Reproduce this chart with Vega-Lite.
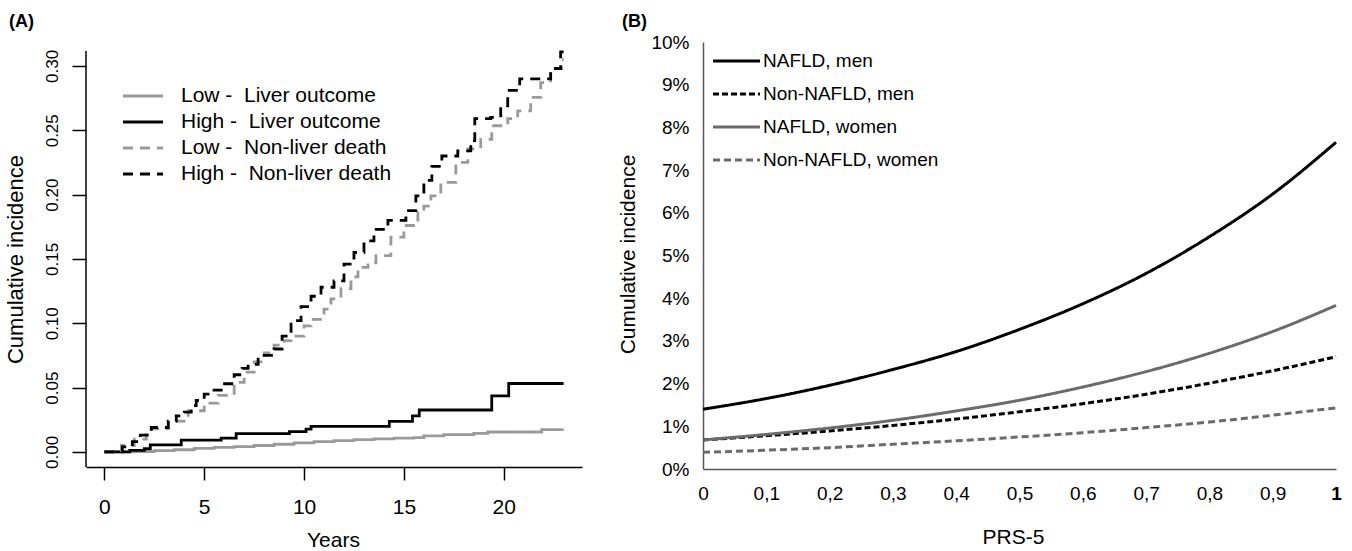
{
  "$schema": "https://vega.github.io/schema/vega-lite/v6.json",
  "background": "white",
  "autosize": {"type": "pad"},
  "padding": {"left": 4, "top": 13, "right": 0, "bottom": 0},
  "config": {
    "font": "Liberation Sans",
    "view": {"stroke": null},
    "axis": {"grid": false, "labelColor": "black", "titleColor": "black", "titleFontWeight": "normal", "labelFlush": false, "labelOverlap": false},
    "legend": {"padding": 0, "labelColor": "black", "labelLimit": 0},
    "title": {"color": "black"}
  },
  "bounds": "flush",
  "spacing": 121,
  "resolve": {
    "scale": {"color": "independent", "strokeDash": "independent", "strokeWidth": "independent", "x": "independent", "y": "independent"},
    "legend": {"color": "independent", "strokeDash": "independent"}
  },
  "hconcat": [
    {
      "width": 496,
      "height": 425,
      "title": {"text": "(A)", "anchor": "start", "frame": "bounds", "fontSize": 18, "fontWeight": "bold", "offset": 11, "dx": 5},
      "data": {"values": [
        {"s": "Low -\u00a0 Liver outcome", "t": 0, "ci": 0},
        {"s": "Low -\u00a0 Liver outcome", "t": 1.5, "ci": 0.0003},
        {"s": "Low -\u00a0 Liver outcome", "t": 2.5, "ci": 0.001},
        {"s": "Low -\u00a0 Liver outcome", "t": 3.5, "ci": 0.0017},
        {"s": "Low -\u00a0 Liver outcome", "t": 4.5, "ci": 0.0027},
        {"s": "Low -\u00a0 Liver outcome", "t": 5.5, "ci": 0.0035},
        {"s": "Low -\u00a0 Liver outcome", "t": 6.5, "ci": 0.0042},
        {"s": "Low -\u00a0 Liver outcome", "t": 7.5, "ci": 0.005},
        {"s": "Low -\u00a0 Liver outcome", "t": 8.5, "ci": 0.006},
        {"s": "Low -\u00a0 Liver outcome", "t": 9.5, "ci": 0.007},
        {"s": "Low -\u00a0 Liver outcome", "t": 10.5, "ci": 0.008},
        {"s": "Low -\u00a0 Liver outcome", "t": 11.5, "ci": 0.0088},
        {"s": "Low -\u00a0 Liver outcome", "t": 12.5, "ci": 0.0096},
        {"s": "Low -\u00a0 Liver outcome", "t": 13.5, "ci": 0.0102},
        {"s": "Low -\u00a0 Liver outcome", "t": 14.5, "ci": 0.0107},
        {"s": "Low -\u00a0 Liver outcome", "t": 15.5, "ci": 0.0112},
        {"s": "Low -\u00a0 Liver outcome", "t": 16.0, "ci": 0.0125},
        {"s": "Low -\u00a0 Liver outcome", "t": 17.0, "ci": 0.0135},
        {"s": "Low -\u00a0 Liver outcome", "t": 18.5, "ci": 0.0145},
        {"s": "Low -\u00a0 Liver outcome", "t": 19.2, "ci": 0.0155},
        {"s": "Low -\u00a0 Liver outcome", "t": 21.9, "ci": 0.0173},
        {"s": "Low -\u00a0 Liver outcome", "t": 23.0, "ci": 0.0173},
        {"s": "High -\u00a0 Liver outcome", "t": 0, "ci": 0},
        {"s": "High -\u00a0 Liver outcome", "t": 1.27, "ci": 0.0012},
        {"s": "High -\u00a0 Liver outcome", "t": 2.0, "ci": 0.0025},
        {"s": "High -\u00a0 Liver outcome", "t": 2.3, "ci": 0.0055},
        {"s": "High -\u00a0 Liver outcome", "t": 3.85, "ci": 0.0092},
        {"s": "High -\u00a0 Liver outcome", "t": 5.85, "ci": 0.0108},
        {"s": "High -\u00a0 Liver outcome", "t": 6.6, "ci": 0.0142},
        {"s": "High -\u00a0 Liver outcome", "t": 9.27, "ci": 0.0158},
        {"s": "High -\u00a0 Liver outcome", "t": 10.1, "ci": 0.0178},
        {"s": "High -\u00a0 Liver outcome", "t": 10.35, "ci": 0.0198},
        {"s": "High -\u00a0 Liver outcome", "t": 14.27, "ci": 0.0238},
        {"s": "High -\u00a0 Liver outcome", "t": 15.43, "ci": 0.028},
        {"s": "High -\u00a0 Liver outcome", "t": 15.77, "ci": 0.0326},
        {"s": "High -\u00a0 Liver outcome", "t": 19.4, "ci": 0.0435},
        {"s": "High -\u00a0 Liver outcome", "t": 20.25, "ci": 0.0532},
        {"s": "High -\u00a0 Liver outcome", "t": 23.0, "ci": 0.0532},
        {"s": "Low -\u00a0 Non-liver death", "t": 0, "ci": 0},
        {"s": "Low -\u00a0 Non-liver death", "t": 0.85, "ci": 0.005},
        {"s": "Low -\u00a0 Non-liver death", "t": 1.5, "ci": 0.01},
        {"s": "Low -\u00a0 Non-liver death", "t": 2.1, "ci": 0.0135},
        {"s": "Low -\u00a0 Non-liver death", "t": 2.35, "ci": 0.018},
        {"s": "Low -\u00a0 Non-liver death", "t": 3.2, "ci": 0.024},
        {"s": "Low -\u00a0 Non-liver death", "t": 4.2, "ci": 0.032},
        {"s": "Low -\u00a0 Non-liver death", "t": 5.0, "ci": 0.038},
        {"s": "Low -\u00a0 Non-liver death", "t": 5.7, "ci": 0.044},
        {"s": "Low -\u00a0 Non-liver death", "t": 6.5, "ci": 0.054},
        {"s": "Low -\u00a0 Non-liver death", "t": 7.0, "ci": 0.062},
        {"s": "Low -\u00a0 Non-liver death", "t": 7.5, "ci": 0.07},
        {"s": "Low -\u00a0 Non-liver death", "t": 8.0, "ci": 0.077},
        {"s": "Low -\u00a0 Non-liver death", "t": 8.5, "ci": 0.083},
        {"s": "Low -\u00a0 Non-liver death", "t": 9.0, "ci": 0.0865},
        {"s": "Low -\u00a0 Non-liver death", "t": 9.35, "ci": 0.09},
        {"s": "Low -\u00a0 Non-liver death", "t": 10.0, "ci": 0.098},
        {"s": "Low -\u00a0 Non-liver death", "t": 10.35, "ci": 0.103},
        {"s": "Low -\u00a0 Non-liver death", "t": 11.0, "ci": 0.111},
        {"s": "Low -\u00a0 Non-liver death", "t": 11.35, "ci": 0.119},
        {"s": "Low -\u00a0 Non-liver death", "t": 11.85, "ci": 0.127},
        {"s": "Low -\u00a0 Non-liver death", "t": 12.35, "ci": 0.136},
        {"s": "Low -\u00a0 Non-liver death", "t": 12.7, "ci": 0.1435},
        {"s": "Low -\u00a0 Non-liver death", "t": 13.2, "ci": 0.147},
        {"s": "Low -\u00a0 Non-liver death", "t": 13.6, "ci": 0.1525},
        {"s": "Low -\u00a0 Non-liver death", "t": 14.35, "ci": 0.167},
        {"s": "Low -\u00a0 Non-liver death", "t": 15.0, "ci": 0.176},
        {"s": "Low -\u00a0 Non-liver death", "t": 15.7, "ci": 0.1875},
        {"s": "Low -\u00a0 Non-liver death", "t": 16.0, "ci": 0.191},
        {"s": "Low -\u00a0 Non-liver death", "t": 16.35, "ci": 0.199},
        {"s": "Low -\u00a0 Non-liver death", "t": 16.85, "ci": 0.2095},
        {"s": "Low -\u00a0 Non-liver death", "t": 17.6, "ci": 0.225},
        {"s": "Low -\u00a0 Non-liver death", "t": 18.2, "ci": 0.2355},
        {"s": "Low -\u00a0 Non-liver death", "t": 18.85, "ci": 0.243},
        {"s": "Low -\u00a0 Non-liver death", "t": 19.4, "ci": 0.2535},
        {"s": "Low -\u00a0 Non-liver death", "t": 20.2, "ci": 0.259},
        {"s": "Low -\u00a0 Non-liver death", "t": 20.7, "ci": 0.265},
        {"s": "Low -\u00a0 Non-liver death", "t": 21.35, "ci": 0.2755},
        {"s": "Low -\u00a0 Non-liver death", "t": 21.85, "ci": 0.287},
        {"s": "Low -\u00a0 Non-liver death", "t": 22.35, "ci": 0.298},
        {"s": "Low -\u00a0 Non-liver death", "t": 22.9, "ci": 0.305},
        {"s": "Low -\u00a0 Non-liver death", "t": 23.0, "ci": 0.305},
        {"s": "High -\u00a0 Non-liver death", "t": 0, "ci": 0},
        {"s": "High -\u00a0 Non-liver death", "t": 0.9, "ci": 0.004},
        {"s": "High -\u00a0 Non-liver death", "t": 1.4, "ci": 0.008},
        {"s": "High -\u00a0 Non-liver death", "t": 1.8, "ci": 0.013},
        {"s": "High -\u00a0 Non-liver death", "t": 2.35, "ci": 0.019},
        {"s": "High -\u00a0 Non-liver death", "t": 3.2, "ci": 0.024},
        {"s": "High -\u00a0 Non-liver death", "t": 3.6, "ci": 0.028},
        {"s": "High -\u00a0 Non-liver death", "t": 4.0, "ci": 0.031},
        {"s": "High -\u00a0 Non-liver death", "t": 4.35, "ci": 0.036},
        {"s": "High -\u00a0 Non-liver death", "t": 4.6, "ci": 0.04},
        {"s": "High -\u00a0 Non-liver death", "t": 5.0, "ci": 0.045},
        {"s": "High -\u00a0 Non-liver death", "t": 5.4, "ci": 0.048},
        {"s": "High -\u00a0 Non-liver death", "t": 5.85, "ci": 0.053},
        {"s": "High -\u00a0 Non-liver death", "t": 6.5, "ci": 0.06},
        {"s": "High -\u00a0 Non-liver death", "t": 6.9, "ci": 0.065},
        {"s": "High -\u00a0 Non-liver death", "t": 7.2, "ci": 0.068},
        {"s": "High -\u00a0 Non-liver death", "t": 7.7, "ci": 0.075},
        {"s": "High -\u00a0 Non-liver death", "t": 8.5, "ci": 0.08},
        {"s": "High -\u00a0 Non-liver death", "t": 8.9, "ci": 0.09},
        {"s": "High -\u00a0 Non-liver death", "t": 9.35, "ci": 0.102},
        {"s": "High -\u00a0 Non-liver death", "t": 9.85, "ci": 0.113},
        {"s": "High -\u00a0 Non-liver death", "t": 10.35, "ci": 0.121},
        {"s": "High -\u00a0 Non-liver death", "t": 10.85, "ci": 0.128},
        {"s": "High -\u00a0 Non-liver death", "t": 11.5, "ci": 0.133},
        {"s": "High -\u00a0 Non-liver death", "t": 12.0, "ci": 0.146},
        {"s": "High -\u00a0 Non-liver death", "t": 12.5, "ci": 0.155},
        {"s": "High -\u00a0 Non-liver death", "t": 13.0, "ci": 0.164},
        {"s": "High -\u00a0 Non-liver death", "t": 13.5, "ci": 0.173},
        {"s": "High -\u00a0 Non-liver death", "t": 14.2, "ci": 0.18},
        {"s": "High -\u00a0 Non-liver death", "t": 15.1, "ci": 0.1875},
        {"s": "High -\u00a0 Non-liver death", "t": 15.6, "ci": 0.199},
        {"s": "High -\u00a0 Non-liver death", "t": 16.0, "ci": 0.211},
        {"s": "High -\u00a0 Non-liver death", "t": 16.4, "ci": 0.222},
        {"s": "High -\u00a0 Non-liver death", "t": 16.9, "ci": 0.23},
        {"s": "High -\u00a0 Non-liver death", "t": 17.7, "ci": 0.234},
        {"s": "High -\u00a0 Non-liver death", "t": 18.35, "ci": 0.242},
        {"s": "High -\u00a0 Non-liver death", "t": 18.55, "ci": 0.259},
        {"s": "High -\u00a0 Non-liver death", "t": 19.35, "ci": 0.26},
        {"s": "High -\u00a0 Non-liver death", "t": 19.85, "ci": 0.269},
        {"s": "High -\u00a0 Non-liver death", "t": 20.2, "ci": 0.281},
        {"s": "High -\u00a0 Non-liver death", "t": 20.8, "ci": 0.29},
        {"s": "High -\u00a0 Non-liver death", "t": 22.35, "ci": 0.298},
        {"s": "High -\u00a0 Non-liver death", "t": 22.85, "ci": 0.311},
        {"s": "High -\u00a0 Non-liver death", "t": 23.0, "ci": 0.311}
      ]},
      "layer": [
        {
          "mark": {"type": "line", "interpolate": "step-after", "strokeWidth": 2.8},
          "encoding": {
            "x": {"field": "t", "type": "quantitative", "title": "Years",
              "scale": {"domain": [-0.92, 23.92], "nice": false, "zero": false},
              "axis": {"values": [0, 5, 10, 15, 20], "domainColor": "black", "domainWidth": 1.5, "tickColor": "black", "tickWidth": 1.5, "tickSize": 13, "labelFontSize": 21, "labelBaseline": "middle", "labelPadding": 27, "titleFontSize": 21, "titleBaseline": "middle", "titleY": 73, "titleX": 247}},
            "y": {"field": "ci", "type": "quantitative", "title": "Cumulative incidence",
              "scale": {"domain": [-0.0117, 0.3186], "nice": false, "zero": false},
              "axis": {"values": [0, 0.05, 0.1, 0.15, 0.2, 0.25, 0.3], "format": ".2f", "domain": false, "tickColor": "black", "tickWidth": 1.5, "tickSize": 14, "labelAngle": 270, "labelAlign": "center", "labelBaseline": "middle", "labelPadding": 20, "labelFontSize": 17, "titleFontSize": 22, "titleAngle": 270, "titleBaseline": "middle", "titleX": -71, "titleY": 217}},
            "color": {"field": "s", "type": "nominal",
              "scale": {"domain": ["Low -\u00a0 Liver outcome", "High -\u00a0 Liver outcome", "Low -\u00a0 Non-liver death", "High -\u00a0 Non-liver death"], "range": ["#9a9a9a", "#000000", "#9a9a9a", "#000000"]},
              "legend": {"orient": "none", "legendX": 41.5, "legendY": 38.5, "title": null, "symbolType": "M-1.43,0H1.43", "symbolSize": 784, "symbolStrokeWidth": 2.8, "labelFontSize": 21, "labelOffset": 22.5, "rowPadding": 0, "labelLimit": 0}},
            "strokeDash": {"field": "s", "type": "nominal",
              "scale": {"domain": ["Low -\u00a0 Liver outcome", "High -\u00a0 Liver outcome", "Low -\u00a0 Non-liver death", "High -\u00a0 Non-liver death"], "range": [[1, 0], [1, 0], [10, 7], [10, 7]]},
              "legend": {"orient": "none", "legendX": 41.5, "legendY": 38.5, "title": null, "symbolType": "M-1.43,0H1.43", "symbolSize": 784, "symbolStrokeWidth": 2.8, "labelFontSize": 21, "labelOffset": 22.5, "rowPadding": 0, "labelLimit": 0}}
          }
        },
        {
          "data": {"values": [{}]},
          "mark": {"type": "rule", "color": "black", "strokeWidth": 1.5},
          "encoding": {"x": {"datum": -0.92}, "y": {"datum": -0.0117}, "y2": {"datum": 0.3117}}
        }
      ]
    },
    {
      "width": 633,
      "height": 427,
      "title": {"text": "(B)", "anchor": "start", "frame": "bounds", "fontSize": 18, "fontWeight": "bold", "offset": 2, "dx": 5},
      "data": {"values": [
        {"g": "NAFLD, men", "p": 0.0, "v": 0.0140},
        {"g": "NAFLD, men", "p": 0.1, "v": 0.0165},
        {"g": "NAFLD, men", "p": 0.2, "v": 0.0196},
        {"g": "NAFLD, men", "p": 0.3, "v": 0.0233},
        {"g": "NAFLD, men", "p": 0.4, "v": 0.0275},
        {"g": "NAFLD, men", "p": 0.5, "v": 0.0327},
        {"g": "NAFLD, men", "p": 0.6, "v": 0.0387},
        {"g": "NAFLD, men", "p": 0.7, "v": 0.0458},
        {"g": "NAFLD, men", "p": 0.8, "v": 0.0544},
        {"g": "NAFLD, men", "p": 0.9, "v": 0.0644},
        {"g": "NAFLD, men", "p": 1.0, "v": 0.0765},
        {"g": "Non-NAFLD, men", "p": 0.0, "v": 0.0068},
        {"g": "Non-NAFLD, men", "p": 0.1, "v": 0.0078},
        {"g": "Non-NAFLD, men", "p": 0.2, "v": 0.0089},
        {"g": "Non-NAFLD, men", "p": 0.3, "v": 0.0102},
        {"g": "Non-NAFLD, men", "p": 0.4, "v": 0.0117},
        {"g": "Non-NAFLD, men", "p": 0.5, "v": 0.0134},
        {"g": "Non-NAFLD, men", "p": 0.6, "v": 0.0153},
        {"g": "Non-NAFLD, men", "p": 0.7, "v": 0.0175},
        {"g": "Non-NAFLD, men", "p": 0.8, "v": 0.0201},
        {"g": "Non-NAFLD, men", "p": 0.9, "v": 0.0230},
        {"g": "Non-NAFLD, men", "p": 1.0, "v": 0.0263},
        {"g": "NAFLD, women", "p": 0.0, "v": 0.0068},
        {"g": "NAFLD, women", "p": 0.1, "v": 0.0081},
        {"g": "NAFLD, women", "p": 0.2, "v": 0.0096},
        {"g": "NAFLD, women", "p": 0.3, "v": 0.0114},
        {"g": "NAFLD, women", "p": 0.4, "v": 0.0136},
        {"g": "NAFLD, women", "p": 0.5, "v": 0.0161},
        {"g": "NAFLD, women", "p": 0.6, "v": 0.0192},
        {"g": "NAFLD, women", "p": 0.7, "v": 0.0228},
        {"g": "NAFLD, women", "p": 0.8, "v": 0.0271},
        {"g": "NAFLD, women", "p": 0.9, "v": 0.0322},
        {"g": "NAFLD, women", "p": 1.0, "v": 0.0383},
        {"g": "Non-NAFLD, women", "p": 0.0, "v": 0.0039},
        {"g": "Non-NAFLD, women", "p": 0.1, "v": 0.0044},
        {"g": "Non-NAFLD, women", "p": 0.2, "v": 0.0050},
        {"g": "Non-NAFLD, women", "p": 0.3, "v": 0.0058},
        {"g": "Non-NAFLD, women", "p": 0.4, "v": 0.0066},
        {"g": "Non-NAFLD, women", "p": 0.5, "v": 0.0075},
        {"g": "Non-NAFLD, women", "p": 0.6, "v": 0.0085},
        {"g": "Non-NAFLD, women", "p": 0.7, "v": 0.0097},
        {"g": "Non-NAFLD, women", "p": 0.8, "v": 0.0110},
        {"g": "Non-NAFLD, women", "p": 0.9, "v": 0.0126},
        {"g": "Non-NAFLD, women", "p": 1.0, "v": 0.0143}
      ]},
      "mark": {"type": "line", "interpolate": "monotone"},
      "encoding": {
        "x": {"field": "p", "type": "quantitative", "title": "PRS-5",
          "scale": {"domain": [0, 1], "nice": false, "zero": false},
          "axis": {"values": [0, 0.1, 0.2, 0.3, 0.4, 0.5, 0.6, 0.7, 0.8, 0.9, 1],
            "labelExpr": "datum.value == 0 ? '0' : datum.value == 1 ? '1' : replace(format(datum.value, '.1f'), '.', ',')",
            "labelFontWeight": {"condition": {"test": "datum.value == 1", "value": "bold"}, "value": "normal"},
            "ticks": false, "tickSize": 0, "domainColor": "#595959", "domainWidth": 1.5, "labelFontSize": 19, "labelBaseline": "middle", "labelPadding": 24, "titleFontSize": 21, "titleBaseline": "middle", "titleY": 68, "titleX": 310}},
        "y": {"field": "v", "type": "quantitative", "title": "Cumulative incidence",
          "scale": {"domain": [0, 0.1], "nice": false, "zero": false},
          "axis": {"values": [0, 0.01, 0.02, 0.03, 0.04, 0.05, 0.06, 0.07, 0.08, 0.09, 0.1], "format": ".0%",
            "ticks": false, "tickSize": 0, "domainColor": "#595959", "domainWidth": 1.5, "labelFontSize": 19, "labelPadding": 14, "labelBaseline": "middle", "titleFontSize": 21, "titleAngle": 270, "titleBaseline": "middle", "titleX": -75, "titleY": 212}},
        "color": {"field": "g", "type": "nominal",
          "scale": {"domain": ["NAFLD, men", "Non-NAFLD, men", "NAFLD, women", "Non-NAFLD, women"], "range": ["#000000", "#000000", "#6b6b6b", "#6b6b6b"]},
          "legend": {"orient": "none", "legendX": 11, "legendY": -3.5, "title": null, "symbolType": "M-1.119,0H1.119", "symbolSize": 1764, "symbolStrokeWidth": 2.5, "labelFontSize": 19, "labelOffset": 4, "rowPadding": 0, "labelLimit": 0}},
        "strokeDash": {"field": "g", "type": "nominal",
          "scale": {"domain": ["NAFLD, men", "Non-NAFLD, men", "NAFLD, women", "Non-NAFLD, women"], "range": [[1, 0], [6, 3], [1, 0], [7, 4]]},
          "legend": {"orient": "none", "legendX": 11, "legendY": -3.5, "title": null, "symbolType": "M-1.119,0H1.119", "symbolSize": 1764, "symbolStrokeWidth": 2.5, "labelFontSize": 19, "labelOffset": 4, "rowPadding": 0, "labelLimit": 0}},
        "strokeWidth": {"field": "g", "type": "nominal", "legend": null,
          "scale": {"domain": ["NAFLD, men", "Non-NAFLD, men", "NAFLD, women", "Non-NAFLD, women"], "range": [3, 3, 2.2, 2.5]}}
      }
    }
  ]
}
